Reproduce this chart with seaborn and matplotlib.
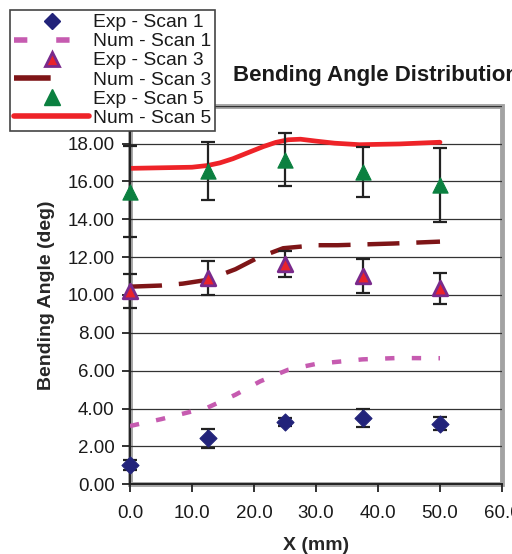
import matplotlib
matplotlib.use("Agg")
import matplotlib.pyplot as plt
import seaborn as sns
import pandas as pd
from matplotlib.lines import Line2D

# ---------------- data ----------------
x_exp = [0.0, 12.5, 25.0, 37.5, 50.0]
exp_scan1 = [1.0, 2.42, 3.3, 3.51, 3.21]
err_scan1 = [0.27, 0.5, 0.2, 0.46, 0.33]
exp_scan3 = [10.2, 10.9, 11.65, 10.98, 10.35]
err_scan3 = [0.9, 0.92, 0.68, 0.9, 0.8]
exp_scan5 = [15.45, 16.55, 17.15, 16.5, 15.82]
err_scan5 = [2.4, 1.55, 1.4, 1.3, 1.97]

x_num1 = [0, 5, 10, 12.5, 17, 21, 25.5, 30, 37.5, 43, 50]
num_scan1 = [3.08, 3.44, 3.85, 4.05, 4.73, 5.44, 6.05, 6.36, 6.6, 6.67, 6.66]
x_num3 = [0, 5, 8.5, 12.5, 17, 20.5, 24.7, 30, 33.5, 42.5, 50]
num_scan3 = [10.44, 10.5, 10.6, 10.8, 11.36, 11.95, 12.47, 12.63, 12.63, 12.72, 12.82]
x_num5 = [0, 10, 12.5, 14.5, 16.6, 19.5, 21.5, 23.5, 25.5, 27.5, 30, 33, 37, 43.5, 50]
num_scan5 = [16.69, 16.75, 16.84, 16.98, 17.2, 17.58, 17.84, 18.06, 18.2, 18.23, 18.13,
             18.02, 17.94, 17.98, 18.07]

labels = ["Exp - Scan 1", "Num - Scan 1", "Exp - Scan 3", "Num - Scan 3",
          "Exp - Scan 5", "Num - Scan 5"]
x_ticks = [0, 10, 20, 30, 40, 50, 60]
y_ticks = [0, 2, 4, 6, 8, 10, 12, 14, 16, 18, 20]

# ---------------- style ----------------
sns.set_style("white")
plt.rcParams['font.family'] = ['Liberation Sans', 'DejaVu Sans']

W, H = 512, 554
fig = plt.figure(figsize=(W / 100, H / 100), dpi=100)
L, R, B, T = 130, 502, 484.3, 105.7
ax = fig.add_axes([L / W, 1 - B / H, (R - L) / W, (B - T) / H])

c_navy = "#22237A"
c_pink = "#C65BB0"
c_tri3 = "#E8232B"
c_tri3e = "#7A2A8C"
c_dred = "#7E1517"
c_green = "#0B8040"
c_red = "#EE2328"

dash1 = [2.1, 3.9]
dash3 = [7.2, 3.8]

# numeric curves
d1 = pd.DataFrame({"x": x_num1, "y": num_scan1})
d3 = pd.DataFrame({"x": x_num3, "y": num_scan3})
d5 = pd.DataFrame({"x": x_num5, "y": num_scan5})
sns.lineplot(data=d1, x="x", y="y", ax=ax, color=c_pink, lw=3.2, zorder=3)
ax.lines[-1].set_dashes(dash1)
sns.lineplot(data=d3, x="x", y="y", ax=ax, color=c_dred, lw=3.2, zorder=3)
ax.lines[-1].set_dashes(dash3)
sns.lineplot(data=d5, x="x", y="y", ax=ax, color=c_red, lw=3.4, zorder=3)
for ln in ax.lines:
    ln.set_solid_capstyle('round')
    ln.set_dash_capstyle('butt')
    ln.set_solid_joinstyle('round')

# error bars
for ys, es in [(exp_scan1, err_scan1), (exp_scan3, err_scan3), (exp_scan5, err_scan5)]:
    ax.errorbar(x_exp, ys, yerr=es, fmt="none", ecolor="#222222", elinewidth=1.6,
                capsize=5, capthick=1.6, zorder=4, clip_on=False)

# experimental markers
sns.scatterplot(x=x_exp, y=exp_scan1, ax=ax, marker="D", s=75, color=c_navy,
                edgecolor=c_navy, linewidth=0.8, zorder=5, clip_on=False)
sns.scatterplot(x=x_exp, y=exp_scan3, ax=ax, marker="^", s=110, color=c_tri3,
                edgecolor=c_tri3e, linewidth=2.0, zorder=5, clip_on=False)
sns.scatterplot(x=x_exp, y=exp_scan5, ax=ax, marker="^", s=120, color=c_green,
                edgecolor=c_green, linewidth=0.8, zorder=5, clip_on=False)

# axes
ax.set_xlim(0, 60)
ax.set_ylim(0, 20)
ax.set_xticks(x_ticks)
ax.set_xticklabels([f"{v:.1f}" for v in x_ticks])
ax.set_yticks(y_ticks)
ax.set_yticklabels([f"{v:.2f}" for v in y_ticks])
ax.tick_params(axis="both", direction="out", length=6, width=1.3, color="#222222",
               labelsize=13.5, labelcolor="#1a1a1a", pad=5, left=True, bottom=True)
ax.tick_params(axis="x", pad=9)
ax.grid(axis="y", color="#333333", lw=0.9)
ax.grid(axis="x", visible=False)
ax.set_axisbelow(True)
for s in ["top", "right"]:
    ax.spines[s].set_visible(False)
for s in ["left", "bottom"]:
    ax.spines[s].set_color("#222222")
    ax.spines[s].set_linewidth(1.4)
    ax.spines[s].set_zorder(2.6)
ax.patch.set_edgecolor("#A3A3A3")
ax.patch.set_linewidth(3.5)

ax.set_xlabel("X (mm)", fontsize=14, fontweight="bold")
ax.xaxis.label.set_va("center")
ax.xaxis.set_label_coords(0.5, -(546 - B) / (B - T))
ax.set_ylabel("Bending Angle (deg)", fontsize=14, fontweight="bold")
ax.yaxis.label.set_va("center")
ax.yaxis.set_label_coords(-(L - 47) / (R - L), 0.5)

fig.text(233 / W, 1 - 75 / H, "Bending Angle Distribution", fontsize=16,
         fontweight="bold", ha="left", va="center", color="#1a1a1a")

# legend
handles = [
    Line2D([], [], ls="none", marker="D", ms=8.5, color=c_navy),
    Line2D([], [], color=c_pink, lw=4, dashes=[2.4, 5.2], dash_capstyle='butt'),
    Line2D([], [], ls="none", marker="^", ms=10, mfc=c_tri3, mec=c_tri3e, mew=2),
    Line2D([], [], color=c_dred, lw=4, dashes=[6.6, 7.5], dash_capstyle='butt'),
    Line2D([], [], ls="none", marker="^", ms=11, color=c_green),
    Line2D([], [], color=c_red, lw=4, solid_capstyle='round'),
]
leg = fig.legend(handles, labels, loc="upper left",
                 bbox_to_anchor=(10 / W, 1 - 10 / H), fontsize=13.9,
                 frameon=True, fancybox=False, edgecolor="#444444",
                 framealpha=1, handlelength=3.9, handletextpad=0.2,
                 labelspacing=0.08, borderpad=0.2, borderaxespad=0)
leg.get_frame().set_linewidth(1.2)
for t in leg.get_texts():
    t.set_color("#1a1a1a")

fig.savefig("out.png", dpi=100)
